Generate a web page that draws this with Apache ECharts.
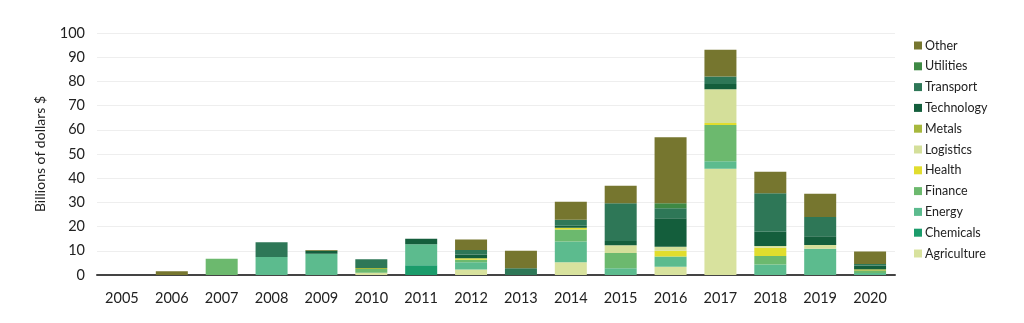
<!DOCTYPE html>
<html><head><meta charset="utf-8">
<script src="https://cdn.jsdelivr.net/npm/echarts@6/dist/echarts.min.js"></script>
<style>html,body{margin:0;padding:0;background:#fff}#c{width:1024px;height:323px}</style>
</head><body><div id="c"></div>
<script>
const years = ['2005','2006','2007','2008','2009','2010','2011','2012','2013','2014','2015','2016','2017','2018','2019','2020'];
const yTicks = [0,10,20,30,40,50,60,70,80,90,100];
const agriculture = [0,0,0,0,0,0.9,0,2.3,0,5.3,0,3.4,43.9,0,0,0];
const chemicals   = [0,0,0,0,0,0,4.0,0,0,0,0,0,0,0,0,0];
const energy      = [0,0,0,7.4,8.8,0,8.7,3.0,0,8.5,2.8,4.2,3.1,4.3,10.8,0.8];
const finance     = [0,0,6.7,0,0,1.6,0,1.0,0,5.0,6.3,0,15.0,3.5,0,1.0];
const health      = [0,0,0,0,0,0,0,0.6,0,0.7,0,2.4,0.8,3.5,0,0];
const logistics   = [0,0,0,0,0,0,0,0,0,0,3.2,1.7,14.0,0.7,1.6,0];
const metals      = [0,0,0,0,0,0.4,0,0,0,0,0,0,0,0,0,0.6];
const technology  = [0,0,0,0,1.2,0,2.3,1.6,0,0.8,1.8,11.7,2.1,5.9,3.6,1.5];
const transport   = [0,0,0,6.1,0,3.6,0,1.8,2.8,2.5,15.6,4.2,3.1,15.9,8.0,0.6];
const utilities   = [0,0,0,0,0,0,0,0,0,0,0,2.0,0,0,0,0];
const other       = [0,1.5,0,0,0.3,0,0,4.4,7.2,7.5,7.2,27.3,11.1,8.9,9.6,5.2];

const seriesDefs = [
  ['Agriculture', agriculture, '#d8e29e'],
  ['Chemicals', chemicals, '#1b9c6b'],
  ['Energy', energy, '#5cbb8e'],
  ['Finance', finance, '#6cb96e'],
  ['Health', health, '#e1dd2e'],
  ['Logistics', logistics, '#d4df9a'],
  ['Metals', metals, '#a7b83d'],
  ['Technology', technology, '#145e3c'],
  ['Transport', transport, '#2e7757'],
  ['Utilities', utilities, '#3e8944'],
  ['Other', other, '#76762f']
];
const FONT = 'Lato';
const chart = echarts.init(document.getElementById('c'), null, {renderer:'canvas'});
chart.setOption({
  animation:false,
  textStyle:{fontFamily:FONT},
  grid:{left:97,right:129,top:33,bottom:48},
  legend:{
    orient:'vertical', left:909, top:34, itemGap:7.8, itemWidth:8, itemHeight:8,
    icon:'rect',
    textStyle:{fontSize:12.5, color:'#222', fontFamily:FONT, padding:[0,0,0,-2]},
    data: seriesDefs.map(s=>s[0]).reverse()
  },
  xAxis:{
    type:'category', data:years,
    axisLine:{lineStyle:{color:'#444', width:2}},
    axisTick:{show:false},
    axisLabel:{fontSize:14.5, color:'#222', margin:16, fontFamily:FONT}
  },
  yAxis:{
    type:'value', min:yTicks[0], max:yTicks[yTicks.length-1], interval:10,
    name:'Billions of dollars $', nameLocation:'middle', nameGap:50,
    nameTextStyle:{fontSize:14, color:'#222', fontFamily:FONT},
    axisLabel:{fontSize:14.5, color:'#222', margin:12, fontFamily:FONT},
    splitLine:{lineStyle:{color:'#eeeeee', width:1}},
    axisLine:{show:false}, axisTick:{show:false}
  },
  series: seriesDefs.map(([name, data, color]) => ({
    name, type:'bar', stack:'total', data, barWidth:32,
    itemStyle:{color}
  }))
});
</script>
</body></html>
